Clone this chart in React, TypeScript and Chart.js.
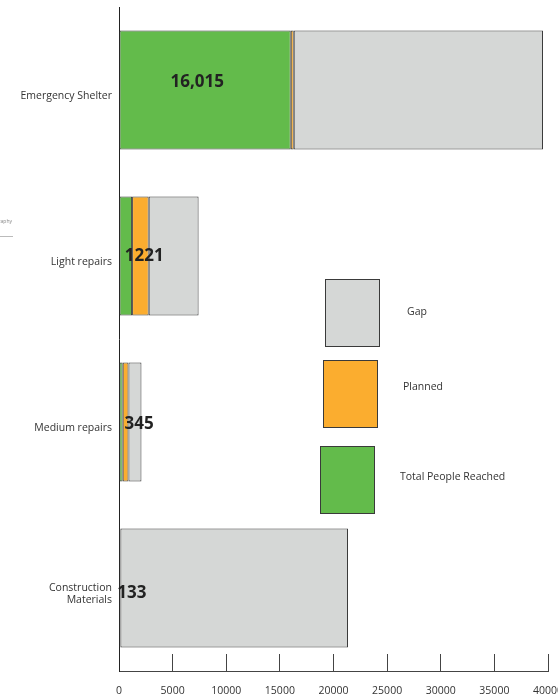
import React, { useEffect, useRef } from "react";
import { Chart, registerables } from "chart.js";

Chart.register(...registerables);

const categories: (string | string[])[] = [
  "Emergency Shelter",
  "Light repairs",
  "Medium repairs",
  ["Construction", "Materials"],
];
const reached = [16015, 1221, 345, 133];
const planned = [280, 1550, 540, 0];
const gap = [23240, 4650, 1210, 21220];
const valueLabels = ["16,015", "1221", "345", "133"];
const valueLabelAt = [7300, 2350, 1870, 1200];
const valueLabelDy = [-8, 0, 2, 5];
const xTickValues = [0, 5000, 10000, 15000, 20000, 25000, 30000, 35000, 40000];

const GREEN = "#63bb4b";
const ORANGE = "#fbad2f";
const GRAY = "#d5d7d6";
const EDGE = "#3a3a3a";
const FONT = "'Open Sans', 'DejaVu Sans', sans-serif";

const legendItems = [
  { label: "Gap", color: GRAY, box: [325, 279, 54, 67], text: [407, 312] },
  { label: "Planned", color: ORANGE, box: [323, 360, 54, 67], text: [403, 387] },
  { label: "Total People Reached", color: GREEN, box: [320, 446, 54, 67], text: [400, 477] },
];

const overlayPlugin = {
  id: "overlay",
  afterDatasetsDraw(chart: any) {
    const ctx = chart.ctx as CanvasRenderingContext2D;
    const xs = chart.scales.x;
    const meta = chart.getDatasetMeta(0);
    ctx.save();
    // value labels
    ctx.font = `700 17px ${FONT}`;
    ctx.fillStyle = "#222";
    ctx.textAlign = "center";
    ctx.textBaseline = "middle";
    valueLabels.forEach((t, i) => {
      const el = meta.data[i];
      ctx.fillText(t, xs.getPixelForValue(valueLabelAt[i]), el.y + valueLabelDy[i]);
    });
    // legend
    legendItems.forEach((it) => {
      const [x, y, w, h] = it.box;
      ctx.fillStyle = it.color;
      ctx.fillRect(x, y, w, h);
      ctx.strokeStyle = EDGE;
      ctx.lineWidth = 1;
      ctx.strokeRect(x + 0.5, y + 0.5, w, h);
      ctx.fillStyle = "#333";
      ctx.font = `10.5px ${FONT}`;
      ctx.textAlign = "left";
      ctx.textBaseline = "middle";
      ctx.fillText(it.label, it.text[0], it.text[1]);
    });
    // clipped fragment at left edge
    ctx.fillStyle = "#888";
    ctx.font = `5px ${FONT}`;
    ctx.textAlign = "right";
    ctx.fillText("Geography", 12, 222);
    ctx.strokeStyle = "#bbb";
    ctx.beginPath();
    ctx.moveTo(0, 236.5);
    ctx.lineTo(13, 236.5);
    ctx.stroke();
    ctx.restore();
  },
};

export default function App() {
  const ref = useRef<HTMLCanvasElement | null>(null);
  useEffect(() => {
    if (!ref.current) return;
    const common = { borderColor: EDGE, borderWidth: 1, borderSkipped: false as const };
    const chart = new Chart(ref.current, {
      type: "bar",
      data: {
        labels: categories as any,
        datasets: [
          { label: "Total People Reached", data: reached, backgroundColor: GREEN, ...common },
          { label: "Planned", data: planned, backgroundColor: ORANGE, ...common },
          { label: "Gap", data: gap, backgroundColor: GRAY, ...common },
        ],
      },
      options: {
        indexAxis: "y",
        responsive: false,
        animation: false,
        devicePixelRatio: 1,
        layout: { padding: { top: 7, right: 10, bottom: 0, left: 0 } },
        datasets: { bar: { categoryPercentage: 1, barPercentage: 0.717 } },
        plugins: { legend: { display: false }, tooltip: { enabled: false } },
        scales: {
          x: {
            type: "linear",
            stacked: true,
            position: "bottom",
            min: 0,
            max: 40000,
            afterBuildTicks: (s: any) => {
              s.ticks = xTickValues.map((v) => ({ value: v }));
            },
            ticks: {
              autoSkip: false,
              maxRotation: 0,
              padding: 31,
              color: "#333",
              font: { family: FONT, size: 10.5 },
              callback: (v: any) => String(v),
            },
            grid: { drawOnChartArea: false, drawTicks: true, tickLength: -17, color: "#444" },
            border: { display: true, color: "#444" },
            afterFit: (s: any) => {
              s.height = 28;
              s.paddingLeft = 0;
              s.paddingRight = 0;
            },
          },
          y: {
            stacked: true,
            position: "left",
            grid: { display: false, drawTicks: false },
            border: { display: true, color: "#222" },
            ticks: {
              padding: 7,
              labelOffset: 6,
              color: "#333",
              font: { family: FONT, size: 10.5 },
            },
            afterFit: (s: any) => {
              s.width = 119;
              s.paddingTop = 0;
              s.paddingBottom = 0;
            },
          },
        },
      },
      plugins: [overlayPlugin],
    });
    return () => chart.destroy();
  }, []);
  return (
    <div style={{ position: "fixed", left: 0, top: 0, width: 558, height: 699, background: "#fff" }}>
      <canvas ref={ref} width={558} height={699} style={{ display: "block" }} />
    </div>
  );
}
